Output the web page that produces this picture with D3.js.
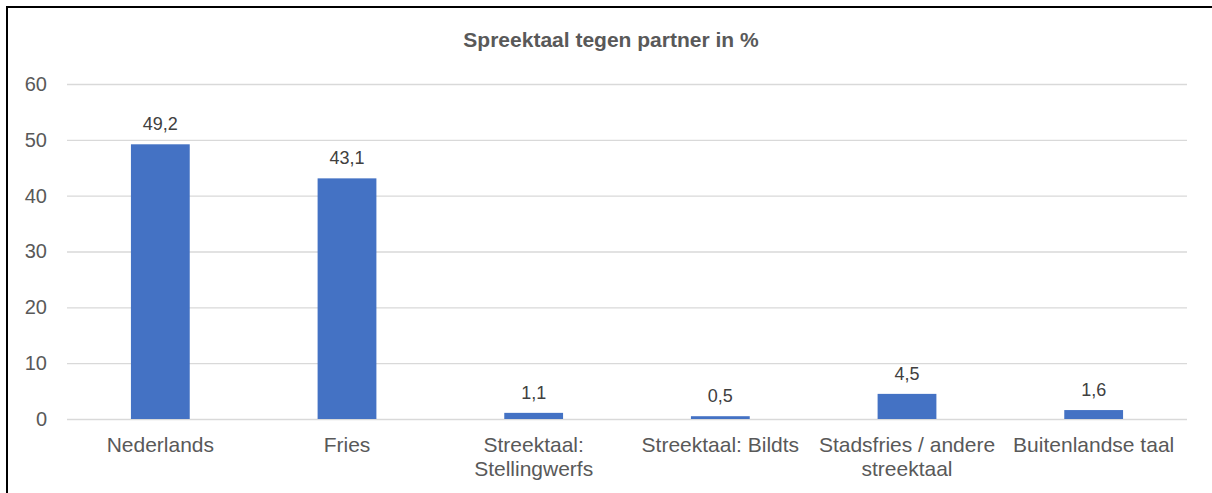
<!DOCTYPE html>
<html>
<head>
<meta charset="utf-8">
<script src="https://cdn.jsdelivr.net/npm/d3@7"></script>
<style>
    body { margin: 0; background: #fff; }
    svg { display: block; font-family: "Liberation Sans", Arial, sans-serif; }
</style>
</head>
<body>
<div id="chart"></div>
<script>
(function () {

    // spoken language towards partner, in %

    var categories = ['Nederlands', 'Fries', 'Streektaal: Stellingwerfs', 'Streektaal: Bildts', 'Stadsfries / andere streektaal', 'Buitenlandse taal'];

    var values = [49.2, 43.1, 1.1, 0.5, 4.5, 1.6];

    var yTicks = [0, 10, 20, 30, 40, 50, 60];

    var title = 'Spreektaal tegen partner in %';


    var width = 1212, height = 493;

    var margin = { top: 84, right: 25, bottom: 74, left: 67 };

    var format = function (v) { return d3.format('.1f')(v).replace('.', ','); };


    var svg = d3.select('#chart')
        .append('svg')
        .attr('width', width)
        .attr('height', height);

    // frame (only left and top edges are visible in the window)
    svg.append('rect')
        .attr('x', 7)
        .attr('y', 7)
        .attr('width', width + 20)
        .attr('height', height + 20)
        .attr('fill', 'none')
        .attr('stroke', '#000')
        .attr('stroke-width', 2);

    svg.append('text')
        .attr('x', 611)
        .attr('y', 47)
        .attr('text-anchor', 'middle')
        .attr('fill', '#595959')
        .style('font-size', '21px')
        .style('font-weight', 'bold')
        .text(title);


    var w = width - margin.left - margin.right;
    var h = height - margin.top - margin.bottom;

    var g = svg.append('g')
        .attr('transform', 'translate(' + margin.left + ',' + margin.top + ')');


    var xScale = d3.scaleBand()
        .domain(categories)
        .range([0, w])
        .paddingInner(0.685)
        .paddingOuter(0.3425);

    var yScale = d3.scaleLinear()
        .domain([0, 60])
        .range([h, 0]);


    // gridlines + y labels
    var yAxis = g.append('g')
        .call(d3.axisLeft(yScale)
            .tickValues(yTicks)
            .tickSize(-w)
            .tickPadding(20)
            .tickFormat(d3.format('d')));

    yAxis.select('.domain').remove();

    yAxis.selectAll('.tick line')
        .attr('stroke', '#d9d9d9')
        .attr('stroke-width', 1.3);

    yAxis.selectAll('.tick text')
        .attr('fill', '#595959')
        .style('font-size', '20px')
        .style('font-family', '"Liberation Sans", Arial, sans-serif');


    g.selectAll('.bar')
        .data(values)
        .enter()
        .append('rect')
        .attr('class', 'bar')
        .attr('x', function (d, i) { return xScale(categories[i]); })
        .attr('y', function (d) { return yScale(d); })
        .attr('width', xScale.bandwidth())
        .attr('height', function (d) { return h - yScale(d); })
        .attr('fill', '#4472c4');

    g.selectAll('.label')
        .data(values)
        .enter()
        .append('text')
        .attr('class', 'label')
        .attr('x', function (d, i) { return xScale(categories[i]) + xScale.bandwidth() / 2; })
        .attr('y', function (d) { return yScale(d) - 14; })
        .attr('text-anchor', 'middle')
        .attr('fill', '#404040')
        .style('font-size', '18px')
        .text(format);


    // category labels, wrapped to the band step
    var xAxis = g.append('g')
        .attr('transform', 'translate(0,' + h + ')')
        .call(d3.axisBottom(xScale).tickSize(0).tickPadding(0));

    xAxis.select('.domain').remove();

    xAxis.selectAll('.tick text')
        .attr('fill', '#595959')
        .attr('dy', null)
        .attr('y', null)
        .style('font-size', '21px')
        .style('font-family', '"Liberation Sans", Arial, sans-serif')
        .call(wrap, xScale.step());

    function wrap(texts, maxWidth) {
        texts.each(function () {
            var text = d3.select(this);
            var words = text.text().split(/\s+/);
            text.text(null);
            var lines = [];
            var line = [];
            var tspan = text.append('tspan');
            words.forEach(function (word) {
                line.push(word);
                tspan.text(line.join(' '));
                if (tspan.node().getComputedTextLength() > maxWidth && line.length > 1) {
                    line.pop();
                    lines.push(line.join(' '));
                    line = [word];
                }
            });
            lines.push(line.join(' '));
            text.text(null);
            lines.forEach(function (l, i) {
                text.append('tspan')
                    .attr('x', 0)
                    .attr('y', 33 + i * 23.5)
                    .text(l);
            });
        });
    }

})();
</script>
</body>
</html>
